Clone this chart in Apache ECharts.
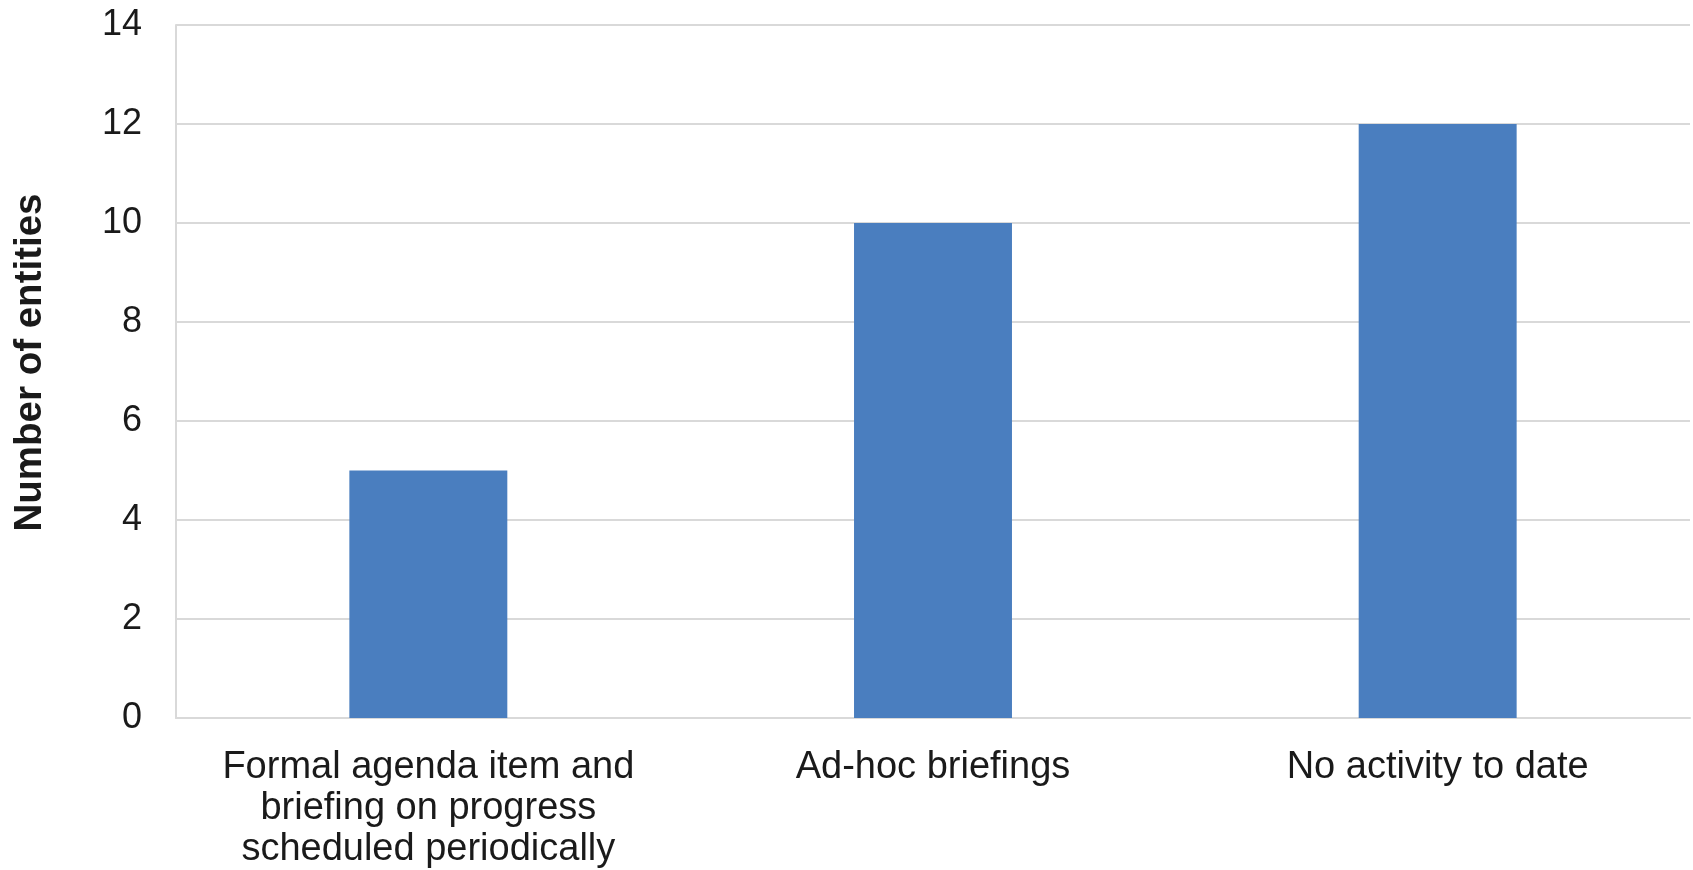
<!DOCTYPE html>
<html>
<head>
<meta charset="utf-8">
<script src="https://cdn.jsdelivr.net/npm/echarts@6/dist/echarts.min.js"></script>
<style>
  html, body { margin: 0; padding: 0; background: #fff; }
  #chart { width: 1693px; height: 870px; }
</style>
</head>
<body>
<div id="chart"></div>
<script>
// categories and counts
const categories = [
  'Formal agenda item and\nbriefing on progress\nscheduled periodically',
  'Ad-hoc briefings',
  'No activity to date'
];
const entityCounts = [5, 10, 12];
const yTicks = [0, 2, 4, 6, 8, 10, 12, 14];

const chart = echarts.init(document.getElementById('chart'));
const fontFamily = '"Liberation Sans", Arial, sans-serif';

const option = {
  animation: false,
  grid: {
    left: 176,
    right: 3,
    top: 25,
    bottom: 152
  },
  xAxis: {
    type: 'category',
    data: categories,
    axisLine: { show: true, lineStyle: { color: '#d9d9d9', width: 2 } },
    axisTick: { show: false },
    axisLabel: {
      color: '#1a1a1a',
      fontFamily: fontFamily,
      fontSize: 38,
      lineHeight: 41,
      margin: 29,
      interval: 0
    }
  },
  yAxis: {
    type: 'value',
    min: yTicks[0],
    max: yTicks[yTicks.length - 1],
    interval: 2,
    name: 'Number of entities',
    nameLocation: 'middle',
    nameGap: 126,
    nameTextStyle: {
      color: '#1a1a1a',
      fontFamily: fontFamily,
      fontSize: 38.5,
      fontWeight: 'bold',
      // nudge the title a little upwards, as in the original
      padding: [0, 0, 0, 18]
    },
    axisLine: { show: true, lineStyle: { color: '#d9d9d9', width: 2 } },
    axisTick: { show: false },
    axisLabel: {
      color: '#1a1a1a',
      fontFamily: fontFamily,
      fontSize: 36,
      margin: 34
    },
    splitLine: { show: true, lineStyle: { color: '#d9d9d9', width: 2 } }
  },
  series: [{
    type: 'bar',
    data: entityCounts,
    barWidth: '31.3%',
    itemStyle: { color: '#4a7ebf' }
  }]
};

chart.setOption(option);
</script>
</body>
</html>
